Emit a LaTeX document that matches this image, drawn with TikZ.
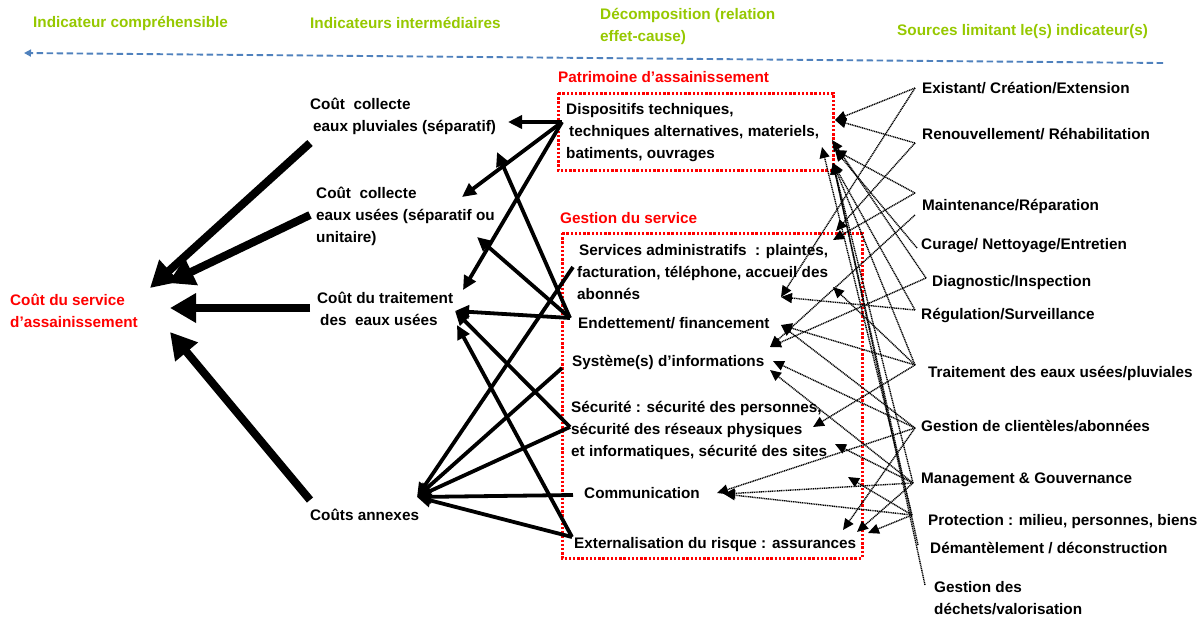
\documentclass[tikz,border=0pt]{standalone}
\usepackage{fontspec}
\setmainfont{Liberation Sans}
\usetikzlibrary{arrows.meta}
\definecolor{hdgreen}{RGB}{150,200,0}
\definecolor{boxred}{RGB}{255,0,0}
\definecolor{flowblue}{RGB}{79,129,189}

\begin{document}
\begin{tikzpicture}[x=1pt,y=-1pt,
  txt/.style={inner sep=0pt, anchor=west, align=left,
              font=\fontsize{15.3}{22}\selectfont\bfseries},
  hdr/.style={txt, text=hdgreen},
  redlbl/.style={txt, text=boxred},
  flow/.style={flowblue, line width=1.9pt, dash pattern=on 6.5pt off 3.5pt,
               -{Triangle[length=7pt,width=7pt]}},
  bigarrow/.style={line width=8pt, -{Triangle[length=26pt,width=28pt]}},
  midarrow/.style={line width=3.8pt, -{Triangle[length=14pt,width=13pt]}},
  srcarrow/.style={line width=1.4pt, black, dash pattern=on 1.1pt off 0.7pt,
                   -{Triangle[length=11pt,width=10pt]}},
  groupbox/.style={draw=boxred, line width=3pt, dash pattern=on 2.4pt off 1.8pt},
]
\useasboundingbox (0,0) rectangle (1200,622);

% column headers and direction of reading
\node[hdr] (h1) at (33,23) {Indicateur compréhensible};
\node[hdr] (h2) at (310,23) {Indicateurs intermédiaires};
\node[hdr] (h3) at (600,26.5) {Décomposition (relation\\effet-cause)};
\node[hdr] (h4) at (897,32) {Sources limitant le(s) indicateur(s)};
\coordinate (flowR) at (1163,63);
\coordinate (flowL) at (24,53);
\draw[flow] (flowR) -- (flowL);

% overall indicator
\node[txt, text=boxred] (svc) at (10,311) {Coût du service\\d’assainissement};

% intermediate indicators
\node[txt] (c1) at (310,116.5) {Coût~~collecte\\\hspace{3pt}eaux pluviales (séparatif)};
\node[txt] (c2) at (316,216) {Coût~~collecte\\eaux usées (séparatif ou\\unitaire)};
\node[txt] (c3) at (317,309) {Coût du traitement\\\hspace{3pt}des~~eaux usées};
\node[txt] (c4) at (310,515) {Coûts annexes};

% asset group
\node[redlbl] (patl) at (558,77) {Patrimoine d’assainissement};
\draw[groupbox] (558,93) rectangle (833,170);
\node[txt] (disp) at (566,133) {Dispositifs techniques,\\\hspace{3pt}techniques alternatives, materiels,\\batiments, ouvrages};

% service management group
\node[redlbl] (gestl) at (560,218) {Gestion du service};
\draw[groupbox] (562,233) rectangle (862,558);
\node[txt] (sa) at (577,272) {\hspace{2pt}Services administratifs~~: plaintes,\\facturation, téléphone, accueil des\\abonnés};
\node[txt] (endt) at (578,323) {Endettement/ financement};
\node[txt] (sys) at (572,362) {Système(s) d’informations};
\node[txt] (sec) at (571,430) {Sécurité : sécurité des personnes,\\sécurité des réseaux physiques\\et informatiques, sécurité des sites};
\node[txt] (com) at (584,493) {Communication};
\node[txt] (ext) at (574,545) {Externalisation du risque : assurances};

% limiting sources
\node[txt] (r1) at (922,88) {Existant/ Création/Extension};
\node[txt] (r2) at (922,134) {Renouvellement/ Réhabilitation};
\node[txt] (r3) at (922,206) {Maintenance/Réparation};
\node[txt] (r4) at (921,246) {Curage/ Nettoyage/Entretien};
\node[txt] (r5) at (932,283) {Diagnostic/Inspection};
\node[txt] (r6) at (921,316) {Régulation/Surveillance};
\node[txt] (r7) at (928,373) {Traitement des eaux usées/pluviales};
\node[txt] (r8) at (921,426) {Gestion de clientèles/abonnées};
\node[txt] (r9) at (921,480) {Management \& Gouvernance};
\node[txt] (r10) at (928,522) {Protection : milieu, personnes, biens};
\node[txt] (r11) at (930,548) {Démantèlement / déconstruction};
\node[txt] (r12) at (934,598) {Gestion des\\déchets/valorisation};

% ports on the overall indicator
\coordinate (svcA) at (150,288);
\coordinate (svcB) at (168,283);
\coordinate (svcC) at (170,308);
\coordinate (svcD) at (170,332);
% ports on the intermediate indicators
\coordinate (c1o) at (310,143);
\coordinate (c2o) at (310,215);
\coordinate (c3o) at (310,308);
\coordinate (c4o) at (310,500);
\coordinate (c1a) at (508,122);
\coordinate (c1b) at (497,152);
\coordinate (c2a) at (462,197);
\coordinate (c2b) at (477,237);
\coordinate (c3a) at (463,290);
\coordinate (c3b) at (455,311);
\coordinate (c3c) at (457,325);
\coordinate (c4a) at (417,497);
% left ports of the decomposition items
\coordinate (dispL) at (562,122);
\coordinate (saL) at (573,267);
\coordinate (endL) at (570,318);
\coordinate (sysL) at (562,368);
\coordinate (secL) at (570,427);
\coordinate (comL) at (573,495);
\coordinate (extL) at (572,537);
% right ports of the decomposition items
\coordinate (dr1) at (835,120);
\coordinate (dr2) at (832,140);
\coordinate (dr3) at (835,150);
\coordinate (dr4) at (822,147);
\coordinate (dr5) at (833,163);
\coordinate (sa1) at (836,231);
\coordinate (sa2) at (833,240);
\coordinate (sa3) at (833,287);
\coordinate (sa4) at (781,297);
\coordinate (en1) at (781,325);
\coordinate (sy1) at (770,347);
\coordinate (sy2) at (773,361);
\coordinate (sy3) at (770,370);
\coordinate (se1) at (813,427);
\coordinate (se2) at (835,444);
\coordinate (se3) at (848,477);
\coordinate (co1) at (717,493);
\coordinate (co2) at (724,494);
\coordinate (ex1) at (843,530);
\coordinate (ex2) at (857,532);
\coordinate (ex3) at (868,533);
% ports on the sources
\coordinate (s1) at (915,88);
\coordinate (s2) at (915,143);
\coordinate (s3) at (915,193);
\coordinate (s4a) at (915,215);
\coordinate (s4) at (917,248);
\coordinate (s5) at (926,278);
\coordinate (s6) at (915,310);
\coordinate (s7) at (915,365);
\coordinate (s8) at (915,428);
\coordinate (s9) at (913,483);
\coordinate (s10) at (912,515);
\coordinate (s11) at (918,545);
\coordinate (s12) at (925,585);

% intermediate indicators -> overall indicator
\draw[bigarrow] (c1o) -- (svcA);
\draw[bigarrow] (c2o) -- (svcB);
\draw[bigarrow] (c3o) -- (svcC);
\draw[bigarrow] (c4o) -- (svcD);

% decomposition items -> intermediate indicators
\draw[midarrow] (dispL) -- (c1a);
\draw[midarrow] (dispL) -- (c2a);
\draw[midarrow] (dispL) -- (c3a);
\draw[midarrow] (endL) -- (c1b);
\draw[midarrow] (endL) -- (c2b);
\draw[midarrow] (endL) -- (c3b);
\draw[midarrow] (secL) -- (c3b);
\draw[midarrow] (extL) -- (c3c);
\draw[midarrow] (saL) -- (c4a);
\draw[midarrow] (sysL) -- (c4a);
\draw[midarrow] (secL) -- (c4a);
\draw[midarrow] (comL) -- (c4a);
\draw[midarrow] (extL) -- (c4a);

% sources -> decomposition items
\draw[srcarrow] (s1) -- (dr1);
\draw[srcarrow] (s1) -- (sa4);
\draw[srcarrow] (s2) -- (dr1);
\draw[srcarrow] (s2) -- (sa1);
\draw[srcarrow] (s3) -- (sa2);
\draw[srcarrow] (s3) -- (dr3);
\draw[srcarrow] (s4a) -- (sy1);
\draw[srcarrow] (s4) -- (dr3);
\draw[srcarrow] (s5) -- (dr2);
\draw[srcarrow] (s5) -- (sy1);
\draw[srcarrow] (s6) -- (sa4);
\draw[srcarrow] (s6) -- (dr5);
\draw[srcarrow] (s7) -- (en1);
\draw[srcarrow] (s7) -- (se1);
\draw[srcarrow] (s7) -- (sa3);
\draw[srcarrow] (s7) -- (dr5);
\draw[srcarrow] (s8) -- (sy2);
\draw[srcarrow] (s8) -- (co1);
\draw[srcarrow] (s8) -- (en1);
\draw[srcarrow] (s8) -- (ex1);
\draw[srcarrow] (s9) -- (sy3);
\draw[srcarrow] (s9) -- (co2);
\draw[srcarrow] (s9) -- (se2);
\draw[srcarrow] (s9) -- (ex2);
\draw[srcarrow] (s9) -- (dr5);
\draw[srcarrow] (s10) -- (co2);
\draw[srcarrow] (s10) -- (ex3);
\draw[srcarrow] (s10) -- (se3);
\draw[srcarrow] (s10) -- (dr4);
\draw[srcarrow] (s11) -- (dr5);
\draw[srcarrow] (s12) -- (dr5);
\end{tikzpicture}
\end{document}
